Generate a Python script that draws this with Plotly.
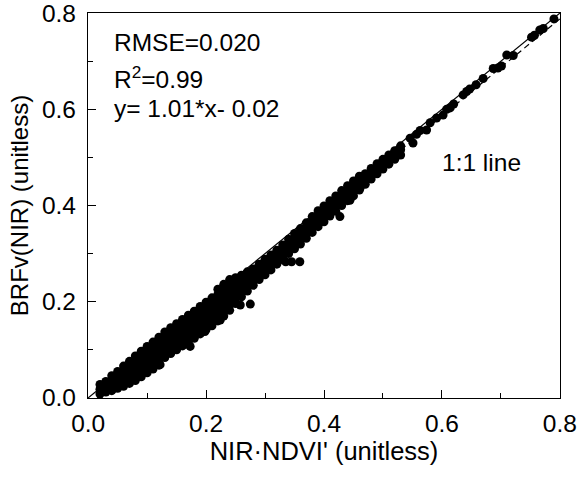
import plotly.graph_objects as go

# ---- data ----
band_x = [0.02, 0.03, 0.04, 0.05, 0.06, 0.07, 0.08, 0.09, 0.10, 0.11, 0.12, 0.13,
          0.14, 0.15, 0.16, 0.17, 0.18, 0.19, 0.20, 0.21, 0.22, 0.23, 0.24, 0.25,
          0.26, 0.27, 0.28, 0.29, 0.30, 0.31, 0.32, 0.33, 0.34, 0.35, 0.36, 0.37,
          0.38, 0.39, 0.40, 0.41, 0.42, 0.43, 0.44, 0.45, 0.46, 0.47, 0.48, 0.49,
          0.50, 0.51, 0.52, 0.53]
band_y = [
    [0.008, 0.018, 0.028],
    [0.012, 0.022, 0.034],
    [0.015, 0.026, 0.037, 0.046],
    [0.020, 0.031, 0.042, 0.055],
    [0.024, 0.035, 0.047, 0.058, 0.066],
    [0.030, 0.041, 0.052, 0.063, 0.076],
    [0.036, 0.047, 0.058, 0.068, 0.078, 0.087],
    [0.044, 0.055, 0.066, 0.077, 0.088, 0.097],
    [0.052, 0.063, 0.074, 0.085, 0.096, 0.107],
    [0.060, 0.071, 0.082, 0.093, 0.104, 0.116],
    [0.068, 0.079, 0.090, 0.101, 0.112, 0.126],
    [0.084, 0.095, 0.106, 0.117, 0.128, 0.137],
    [0.092, 0.103, 0.114, 0.125, 0.136, 0.146],
    [0.100, 0.111, 0.122, 0.133, 0.144, 0.154],
    [0.108, 0.119, 0.130, 0.141, 0.152, 0.163],
    [0.116, 0.127, 0.138, 0.149, 0.160, 0.172],
    [0.124, 0.135, 0.146, 0.157, 0.168, 0.180],
    [0.133, 0.144, 0.155, 0.166, 0.177, 0.190],
    [0.142, 0.153, 0.164, 0.175, 0.186, 0.199],
    [0.150, 0.161, 0.172, 0.183, 0.194, 0.208],
    [0.160, 0.171, 0.182, 0.193, 0.204, 0.215, 0.226],
    [0.170, 0.181, 0.192, 0.203, 0.214, 0.225, 0.236],
    [0.182, 0.193, 0.204, 0.215, 0.226, 0.237, 0.246],
    [0.196, 0.207, 0.218, 0.229, 0.240, 0.250],
    [0.210, 0.221, 0.232, 0.243, 0.255],
    [0.222, 0.233, 0.244, 0.255, 0.262],
    [0.234, 0.245, 0.256, 0.268],
    [0.246, 0.257, 0.268, 0.278],
    [0.256, 0.267, 0.278, 0.288],
    [0.266, 0.277, 0.288, 0.297],
    [0.278, 0.289, 0.300, 0.307],
    [0.290, 0.301, 0.312, 0.318],
    [0.300, 0.311, 0.322, 0.330],
    [0.310, 0.321, 0.332, 0.342],
    [0.320, 0.331, 0.342, 0.352],
    [0.332, 0.343, 0.354, 0.364],
    [0.344, 0.355, 0.366, 0.377],
    [0.356, 0.367, 0.378, 0.389],
    [0.366, 0.377, 0.388, 0.399],
    [0.378, 0.389, 0.400, 0.410],
    [0.388, 0.399, 0.410, 0.420],
    [0.400, 0.411, 0.422, 0.431],
    [0.410, 0.421, 0.432, 0.441],
    [0.420, 0.431, 0.442, 0.451],
    [0.432, 0.443, 0.454, 0.461],
    [0.444, 0.455, 0.466],
    [0.455, 0.466, 0.477],
    [0.466, 0.477, 0.487],
    [0.476, 0.487, 0.496],
    [0.486, 0.497, 0.505],
    [0.496, 0.507, 0.514],
    [0.505, 0.516, 0.524],
]

upper_x = [0.546, 0.551, 0.557, 0.563, 0.574, 0.580, 0.591, 0.602, 0.608, 0.614,
           0.620, 0.636, 0.642, 0.647, 0.658, 0.670, 0.687, 0.695, 0.701, 0.710,
           0.721, 0.752, 0.757, 0.766, 0.772, 0.790]
upper_y = [0.540, 0.530, 0.548, 0.556, 0.557, 0.572, 0.582, 0.588, 0.600, 0.603,
           0.611, 0.630, 0.637, 0.642, 0.651, 0.664, 0.685, 0.686, 0.690, 0.713,
           0.712, 0.750, 0.754, 0.765, 0.768, 0.788]

outlier_x = [0.122, 0.173, 0.198, 0.224, 0.258, 0.275, 0.325, 0.335, 0.345, 0.359,
             0.427, 0.444, 0.461]
outlier_y = [0.069, 0.107, 0.138, 0.162, 0.193, 0.195, 0.287, 0.283, 0.283, 0.283,
             0.377, 0.411, 0.436]

fit_slope = 1.01
fit_intercept = -0.02
axis_range = [0.0, 0.8]
tick_vals = [0.0, 0.2, 0.4, 0.6, 0.8]
tick_text = ["0.0", "0.2", "0.4", "0.6", "0.8"]
minor_vals = [0.1, 0.3, 0.5, 0.7]

stats_lines = ["RMSE=0.020", "R<sup>2</sup>=0.99", "y= 1.01*x- 0.02"]
x_title = "NIR·NDVI' (unitless)"
y_title = "BRFv(NIR) (unitless)"

# ---- build ----
pts_x, pts_y = [], []
for xv, ys in zip(band_x, band_y):
    for yv in ys:
        pts_x.append(xv)
        pts_y.append(yv)
pts_x += upper_x + outlier_x
pts_y += upper_y + outlier_y

FONT = "Liberation Sans, Arial, sans-serif"
fig = go.Figure()
fig.add_trace(go.Scatter(x=pts_x, y=pts_y, mode="markers",
                         marker=dict(color="black", size=9, line=dict(width=0)),
                         showlegend=False, hoverinfo="skip", cliponaxis=False))
fig.add_trace(go.Scatter(x=axis_range, y=axis_range, mode="lines",
                         line=dict(color="black", width=1.2), showlegend=False))
x0 = -fit_intercept / fit_slope
fig.add_trace(go.Scatter(x=[x0, axis_range[1]],
                         y=[fit_slope * x0 + fit_intercept, fit_slope * axis_range[1] + fit_intercept],
                         mode="lines", line=dict(color="black", width=1.2, dash="6px,4px"),
                         showlegend=False))

rng = [axis_range[0] - 0.0003, axis_range[1] + 0.0003]
axis_common = dict(range=rng, tickmode="array", tickvals=tick_vals, ticktext=tick_text,
                   ticks="inside", ticklen=8, tickwidth=1.3, tickcolor="black",
                   minor=dict(tickmode="array", tickvals=minor_vals, ticks="inside",
                              ticklen=5, tickwidth=1.3, tickcolor="black", showgrid=False),
                   showline=True, linewidth=1.3, linecolor="black", mirror=True,
                   showgrid=False, zeroline=False, automargin=False,
                   ticklabeloverflow="allow",
                   tickfont=dict(family=FONT, size=24.5, color="black"))

fig.update_xaxes(**axis_common, title=dict(text=x_title, standoff=4,
                 font=dict(family=FONT, size=25.5, color="black")), ticklabelstandoff=3)
fig.update_yaxes(**axis_common, title=dict(text=y_title, standoff=6,
                 font=dict(family=FONT, size=24, color="black")), ticklabelstandoff=6)

ann_y = [0.740, 0.667, 0.601]
for txt, yy in zip(stats_lines, ann_y):
    fig.add_annotation(x=0.0407, y=yy, xref="x", yref="y", text=txt, showarrow=False,
                       xanchor="left", yanchor="middle",
                       font=dict(family=FONT, size=24.5, color="black"))
fig.add_annotation(x=0.597, y=0.490, xref="x", yref="y", text="1:1 line", showarrow=False,
                   xanchor="left", yanchor="middle",
                   font=dict(family=FONT, size=24.5, color="black"))

fig.update_layout(width=579, height=477, margin=dict(l=88, r=19, t=13, b=79),
                  plot_bgcolor="white", paper_bgcolor="white",
                  font=dict(family=FONT, size=24, color="black"))
fig.write_html("out.html")
